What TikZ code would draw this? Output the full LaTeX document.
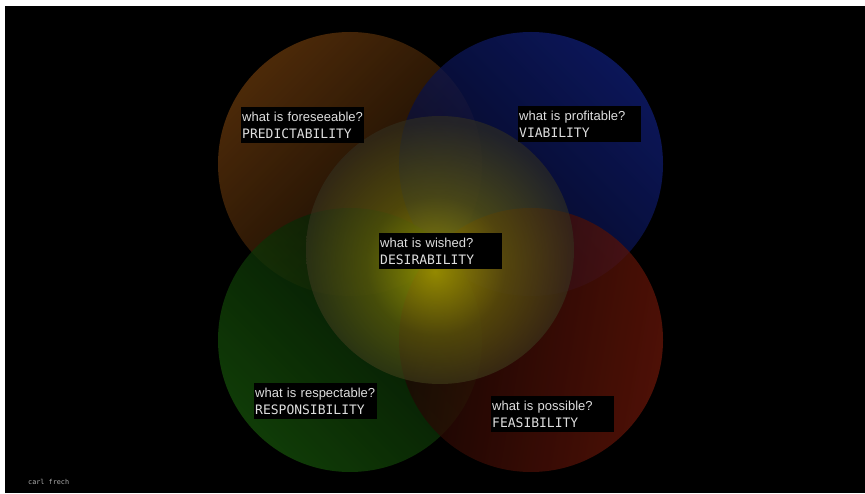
\documentclass[tikz,border=0pt]{standalone}
\usepackage{fontspec}
\setsansfont{Liberation Sans}
\setmonofont{DejaVu Sans Mono}

\definecolor{labeltext}{RGB}{222,222,222}
\definecolor{signgrey}{RGB}{175,175,175}
\definecolor{predlight}{RGB}{102,56,12}
\definecolor{preddark}{RGB}{18,9,3}
\definecolor{viablight}{RGB}{16,30,118}
\definecolor{viabdark}{RGB}{6,9,36}
\definecolor{resplight}{RGB}{22,80,10}
\definecolor{respdark}{RGB}{4,22,3}
\definecolor{feaslight}{RGB}{104,22,9}
\definecolor{feasdark}{RGB}{26,6,3}
\definecolor{wishcore}{RGB}{230,222,0}
\definecolor{wishmid}{RGB}{112,108,14}
\definecolor{wishedge}{RGB}{50,48,32}

\pgfdeclareradialshading{wishglow}{\pgfpoint{-1bp}{-4bp}}{color(0bp)=(wishcore); color(13bp)=(wishmid); color(26bp)=(wishedge); color(50bp)=(wishedge)}

\tikzset{
    question/.style={fill=black, text=labeltext, anchor=north west, align=left,
        text width=121pt, minimum height=36pt, inner xsep=1pt, inner ysep=2pt,
        font=\fontsize{13}{17.5}\selectfont},
    bubble/.style={fill opacity=0.75}
}

\begin{document}
\begin{tikzpicture}[x=1pt, y=1pt]
    \fill[white] (0, 0) rectangle (865, 493);
    \fill[black] (5, 0) rectangle (865, 487);

    \foreach \cx/\cy/\light/\dark/\ang in {350/329/predlight/preddark/45, 531/329/viablight/viabdark/-45, 350/153/resplight/respdark/135, 531/153/feaslight/feasdark/-100}
        \shade[bubble, top color=\light, bottom color=\dark, shading angle=\ang] (\cx, \cy) circle[radius=132pt];

    \shade[fill opacity=0.6, shading=wishglow] (440, 243) circle[radius=134pt];

    \node[question] (predict) at (241, 386) {{\sffamily what is foreseeable?}\\{\ttfamily PREDICTABILITY}};
    \node[question] (viable) at (518, 387) {{\sffamily what is profitable?}\\{\ttfamily VIABILITY}};
    \node[question] (desire) at (379, 260) {{\sffamily what is wished?}\\{\ttfamily DESIRABILITY}};
    \node[question] (respons) at (254, 110) {{\sffamily what is respectable?}\\{\ttfamily RESPONSIBILITY}};
    \node[question] (feasible) at (491, 97) {{\sffamily what is possible?}\\{\ttfamily FEASIBILITY}};

    \node[text=signgrey, font=\ttfamily\fontsize{6.8}{8}\selectfont, anchor=west, inner sep=0pt] (signature) at (28, 11) {carl frech};
\end{tikzpicture}
\end{document}
